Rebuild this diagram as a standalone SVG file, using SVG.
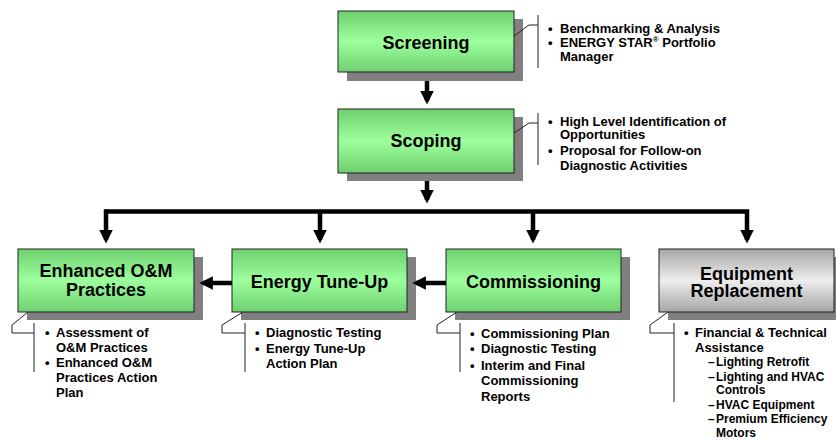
<svg xmlns="http://www.w3.org/2000/svg" width="836" height="440" viewBox="0 0 836 440">
<defs>
<linearGradient id="gGreen" x1="0" y1="0" x2="0" y2="1">
<stop offset="0" stop-color="#6fcf6f"/><stop offset="0.5" stop-color="#9cff9c"/><stop offset="1" stop-color="#6fcf6f"/>
</linearGradient>
<linearGradient id="gGray" x1="0" y1="0" x2="0" y2="1">
<stop offset="0" stop-color="#a6a6a6"/><stop offset="0.5" stop-color="#ededed"/><stop offset="1" stop-color="#a6a6a6"/>
</linearGradient>
<marker id="ah" markerWidth="3" markerHeight="3" refX="2.2" refY="1.5" orient="auto" markerUnits="strokeWidth" viewBox="0 0 3 3">
<path d="M0,0 L3,1.5 L0,3 Z" fill="#000"/>
</marker>
</defs>
<style>
.shadow{fill:#808080}
.green{fill:url(#gGreen);stroke:#222;stroke-width:1}
.gray{fill:url(#gGray);stroke:#222;stroke-width:1}
.title{font-family:"Liberation Sans",Arial,sans-serif;font-weight:bold;font-size:18px;fill:#000;text-anchor:middle}
.txt{font-family:"Liberation Sans",Arial,sans-serif;font-weight:bold;font-size:13px;fill:#000}
.sub{font-family:"Liberation Sans",Arial,sans-serif;font-weight:bold;font-size:12px;fill:#000}
.call{fill:none;stroke:#222;stroke-width:1}
.conn{fill:none;stroke:#000;stroke-width:4.5}
</style>

<g id="connectors">
<line class="conn" x1="427" y1="72" x2="427" y2="101" marker-end="url(#ah)"/>
<line class="conn" x1="427" y1="173" x2="427" y2="200" marker-end="url(#ah)"/>
<polyline class="conn" points="106,211.5 747,211.5 747,240" marker-end="url(#ah)"/>
<line class="conn" x1="106" y1="209.25" x2="106" y2="240" marker-end="url(#ah)"/>
<line class="conn" x1="320" y1="211.5" x2="320" y2="240" marker-end="url(#ah)"/>
<line class="conn" x1="533" y1="211.5" x2="533" y2="240" marker-end="url(#ah)"/>
</g>

<g id="screening">
<rect class="shadow" x="347" y="19" width="176" height="62"/>
<rect class="green" x="338" y="11" width="176" height="61"/>
<text class="title" x="426" y="49">Screening</text>
<polyline class="call" points="514,36 529,25 538,25"/>
<line class="call" x1="538" y1="15" x2="538" y2="68"/>
<text class="txt" x="548" y="33">•</text><text class="txt" x="560" y="33">Benchmarking &amp; Analysis</text>
<text class="txt" x="548" y="47">•</text><text class="txt" x="560" y="47">ENERGY STAR<tspan font-size="8" dy="-5">®</tspan><tspan dy="5"> Portfolio</tspan></text>
<text class="txt" x="560" y="61">Manager</text>
</g>

<g id="scoping">
<rect class="shadow" x="347" y="117" width="176" height="64"/>
<rect class="green" x="338" y="109" width="176" height="64"/>
<text class="title" x="426" y="147">Scoping</text>
<polyline class="call" points="514,133 529,123 538,123"/>
<line class="call" x1="538" y1="113" x2="538" y2="165"/>
<text class="txt" x="548" y="126">•</text><text class="txt" x="560" y="126">High Level Identification of</text>
<text class="txt" x="560" y="139">Opportunities</text>
<text class="txt" x="548" y="155">•</text><text class="txt" x="560" y="155">Proposal for Follow-on</text>
<text class="txt" x="560" y="170">Diagnostic Activities</text>
</g>

<g id="enhanced">
<rect class="shadow" x="27" y="257" width="176" height="63"/>
<rect class="green" x="18" y="249" width="176" height="63"/>
<text class="title" x="106" y="277">Enhanced O&amp;M</text>
<text class="title" x="106" y="296">Practices</text>
<polyline class="call" points="28,312 12,325 12,333 34,333"/>
<line class="call" x1="34" y1="323" x2="34" y2="372"/>
<text class="txt" x="45" y="336.5">•</text><text class="txt" x="56" y="336.5">Assessment of</text>
<text class="txt" x="56" y="351.5">O&amp;M Practices</text>
<text class="txt" x="45" y="366.5">•</text><text class="txt" x="56" y="366.5">Enhanced O&amp;M</text>
<text class="txt" x="56" y="381.5">Practices Action</text>
<text class="txt" x="56" y="396.5">Plan</text>
</g>

<g id="tuneup">
<rect class="shadow" x="241" y="257" width="175" height="63"/>
<rect class="green" x="232" y="249" width="175" height="63"/>
<text class="title" x="319.5" y="288">Energy Tune-Up</text>
<polyline class="call" points="243,312 222,325 222,333 245,333"/>
<line class="call" x1="245" y1="323" x2="245" y2="372"/>
<text class="txt" x="255" y="336.5">•</text><text class="txt" x="266" y="336.5">Diagnostic Testing</text>
<text class="txt" x="255" y="353">•</text><text class="txt" x="266" y="353">Energy Tune-Up</text>
<text class="txt" x="266" y="367.5">Action Plan</text>
</g>

<g id="commissioning">
<rect class="shadow" x="455" y="257" width="175" height="63"/>
<rect class="green" x="446" y="249" width="175" height="63"/>
<text class="title" x="533.5" y="288">Commissioning</text>
<polyline class="call" points="457,312 437,325 437,333 460,333"/>
<line class="call" x1="460" y1="323" x2="460" y2="372"/>
<text class="txt" x="470" y="337.5">•</text><text class="txt" x="481" y="337.5">Commissioning Plan</text>
<text class="txt" x="470" y="352.5">•</text><text class="txt" x="481" y="352.5">Diagnostic Testing</text>
<text class="txt" x="470" y="369.5">•</text><text class="txt" x="481" y="369.5">Interim and Final</text>
<text class="txt" x="481" y="385">Commissioning</text>
<text class="txt" x="481" y="400.5">Reports</text>
</g>

<g id="equipment">
<rect class="shadow" x="668" y="257" width="168" height="63"/>
<rect class="gray" x="659" y="249" width="175" height="63"/>
<text class="title" x="746.5" y="280">Equipment</text>
<text class="title" x="746.5" y="297">Replacement</text>
<polyline class="call" points="668,312 650,325 650,333 674,333"/>
<line class="call" x1="674" y1="323" x2="674" y2="402"/>
<text class="txt" x="684" y="337">•</text><text class="txt" x="695" y="337">Financial &amp; Technical</text>
<text class="txt" x="695" y="352">Assistance</text>
<text class="sub" x="708" y="366">–</text><text class="sub" x="716" y="366">Lighting Retrofit</text>
<text class="sub" x="708" y="381">–</text><text class="sub" x="716" y="381">Lighting and HVAC</text>
<text class="sub" x="716" y="394">Controls</text>
<text class="sub" x="708" y="409">–</text><text class="sub" x="716" y="409">HVAC Equipment</text>
<text class="sub" x="708" y="423">–</text><text class="sub" x="716" y="423">Premium Efficiency</text>
<text class="sub" x="716" y="437">Motors</text>
</g>

<g id="connectors-horizontal">
<line class="conn" x1="446" y1="283" x2="416" y2="283" marker-end="url(#ah)"/>
<line class="conn" x1="232" y1="283" x2="203" y2="283" marker-end="url(#ah)"/>
</g>
</svg>
